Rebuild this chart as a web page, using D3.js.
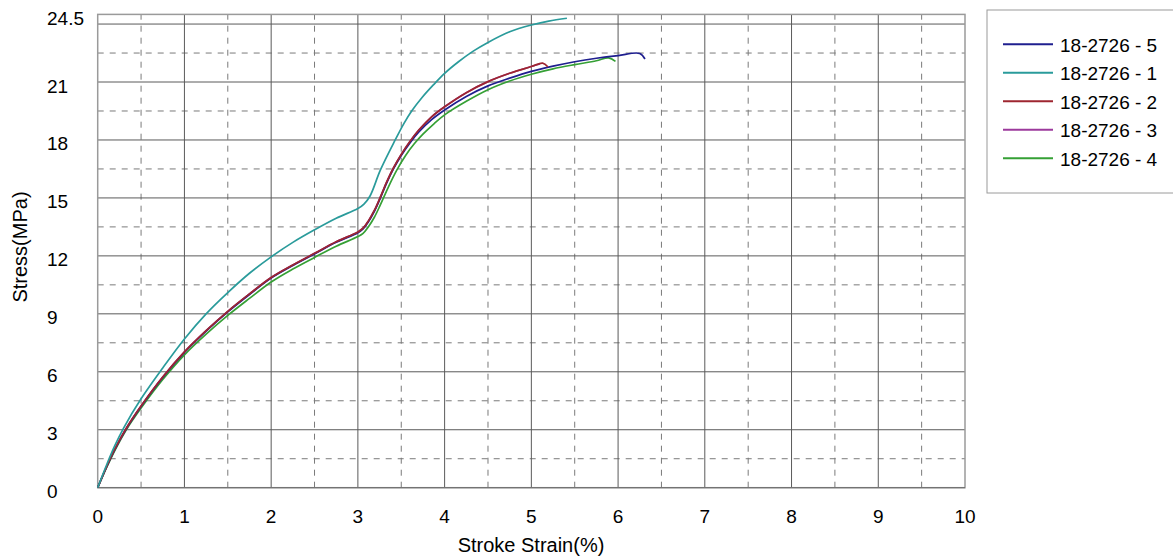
<!DOCTYPE html>
<html>
<head>
<meta charset="utf-8">
<script src="https://cdn.jsdelivr.net/npm/d3@7"></script>
<style>
  body { margin: 0; background: #fff; }
  svg { display: block; font-family: "Liberation Sans", Arial, sans-serif; }
</style>
</head>
<body>
<svg id="chart" width="1173" height="558"></svg>
<script>
// series names, in legend order
const seriesNames = ["18-2726 - 5", "18-2726 - 1", "18-2726 - 2", "18-2726 - 3", "18-2726 - 4"];
const seriesColors = ["#1f1f8f", "#2a9b9b", "#9e2630", "#9c3a9c", "#35a035"];

// [strain %, stress MPa]
const s5 = [[0,0],[0.1,1.05],[0.2,2.0],[0.33,3.05],[0.5,4.2],[0.75,5.7],[1.0,7.0],[1.25,8.1],[1.5,9.1],[1.75,10.0],
  [2.0,10.85],[2.25,11.5],[2.5,12.1],[2.75,12.7],[3.0,13.2],[3.06,13.4],[3.12,13.75],[3.19,14.3],[3.26,15.0],[3.33,15.75],
  [3.41,16.5],[3.5,17.2],[3.6,17.85],[3.7,18.4],[3.85,19.05],[4.0,19.55],[4.25,20.25],[4.5,20.8],[4.75,21.2],[5.0,21.55],
  [5.25,21.82],[5.5,22.05],[5.75,22.23],[6.0,22.37],[6.25,22.48],[6.31,22.19]];
const s1 = [[0,0],[0.1,1.15],[0.2,2.2],[0.3,3.1],[0.5,4.6],[0.75,6.2],[1.0,7.7],[1.25,9.0],[1.5,10.1],[1.75,11.1],
  [2.0,11.95],[2.25,12.7],[2.5,13.35],[2.75,13.95],[3.0,14.45],[3.07,14.68],[3.14,15.1],[3.26,16.45],[3.43,18.0],[3.53,18.85],
  [3.62,19.5],[3.74,20.2],[3.87,20.85],[4.0,21.45],[4.16,22.05],[4.33,22.6],[4.5,23.05],[4.75,23.6],[5.0,23.95],[5.2,24.15],
  [5.41,24.3]];
const s2 = [[0,0],[0.1,1.06],[0.2,2.02],[0.33,3.08],[0.5,4.23],[0.75,5.73],[1.0,7.03],[1.25,8.13],[1.5,9.13],[1.75,10.03],
  [2.0,10.88],[2.25,11.53],[2.5,12.13],[2.75,12.73],[3.0,13.24],[3.06,13.44],[3.12,13.8],[3.19,14.35],[3.26,15.05],[3.33,15.8],
  [3.41,16.55],[3.5,17.25],[3.6,17.92],[3.7,18.5],[3.85,19.2],[4.0,19.72],[4.25,20.45],[4.5,21.02],[4.75,21.45],[5.0,21.8],
  [5.13,21.98],[5.19,21.79]];
const s3 = [[0,0],[0.1,1.06],[0.2,2.02],[0.33,3.08],[0.5,4.23],[0.75,5.73],[1.0,7.03],[1.25,8.13],[1.5,9.13],[1.75,10.03],
  [2.0,10.88],[2.25,11.53],[2.5,12.13],[2.75,12.73],[3.0,13.24],[3.06,13.44],[3.12,13.8],[3.19,14.35],[3.26,15.05],[3.33,15.8],
  [3.41,16.55],[3.5,17.25],[3.6,17.92],[3.7,18.5],[3.85,19.2],[4.0,19.72],[4.25,20.45],[4.5,21.02],[4.75,21.45],[5.0,21.8],
  [5.1,21.93]];
const s4 = [[0,0],[0.1,1.02],[0.2,1.95],[0.33,3.0],[0.5,4.12],[0.75,5.6],[1.0,6.88],[1.25,7.95],[1.5,8.92],[1.75,9.8],
  [2.0,10.65],[2.25,11.32],[2.5,11.92],[2.75,12.5],[3.0,13.0],[3.06,13.17],[3.12,13.5],[3.19,14.0],[3.26,14.65],[3.35,15.55],
  [3.45,16.45],[3.55,17.2],[3.65,17.8],[3.75,18.3],[3.88,18.85],[4.0,19.3],[4.25,20.0],[4.5,20.6],[4.75,21.05],[5.0,21.4],
  [5.25,21.68],[5.5,21.9],[5.75,22.1],[5.89,22.25],[5.97,22.07]];

const seriesData = [s5, s1, s2, s3, s4];
// drawing order (purple sits under red)
const drawOrder = [3, 4, 0, 2, 1];

const xTicks = [0, 1, 2, 3, 4, 5, 6, 7, 8, 9, 10];
const yTicks = [0, 3, 6, 9, 12, 15, 18, 21, 24.5];
const xMinor = [0.5, 1.5, 2.5, 3.5, 4.5, 5.5, 6.5, 7.5, 8.5, 9.5];
const yMajorGrid = [3, 6, 9, 12, 15, 18, 21, 24];
const yMinorGrid = [1.5, 4.5, 7.5, 10.5, 13.5, 16.5, 19.5, 22.5];

const svg = d3.select("#chart");
const x = d3.scaleLinear([0, 10], [97.7, 965]);
const y = d3.scaleLinear([0, 24.5], [487.7, 14.4]);

const grid = svg.append("g");
// minor dashed grid
grid.selectAll(".vmin").data(xMinor).enter().append("line")
  .attr("x1", d => x(d)).attr("x2", d => x(d)).attr("y1", y(0)).attr("y2", y(24.5))
  .attr("stroke", "#7a7a7a").attr("stroke-width", 1).attr("stroke-dasharray", "6,6");
grid.selectAll(".hmin").data(yMinorGrid).enter().append("line")
  .attr("x1", x(0)).attr("x2", x(10)).attr("y1", d => y(d)).attr("y2", d => y(d))
  .attr("stroke", "#7a7a7a").attr("stroke-width", 1).attr("stroke-dasharray", "6,6");
// major solid grid
grid.selectAll(".vmaj").data(xTicks.slice(1, -1)).enter().append("line")
  .attr("x1", d => x(d)).attr("x2", d => x(d)).attr("y1", y(0)).attr("y2", y(24.5))
  .attr("stroke", "#5a5a5a").attr("stroke-width", 1);
grid.selectAll(".hmaj").data(yMajorGrid).enter().append("line")
  .attr("x1", x(0)).attr("x2", x(10)).attr("y1", d => y(d)).attr("y2", d => y(d))
  .attr("stroke", "#5a5a5a").attr("stroke-width", 1);
// frame
svg.append("rect")
  .attr("x", x(0)).attr("y", y(24.5)).attr("width", x(10) - x(0)).attr("height", y(0) - y(24.5))
  .attr("fill", "none").attr("stroke", "#9a9a9a").attr("stroke-width", 1.5);
svg.append("line").attr("x1", x(0)).attr("x2", x(10)).attr("y1", y(0)).attr("y2", y(0))
  .attr("stroke", "#6a6a6a").attr("stroke-width", 1);

// tick labels
svg.append("g").selectAll("text").data(yTicks).enter().append("text")
  .attr("x", 47).attr("y", d => y(d) + 10.5)
  .attr("font-size", 19).attr("fill", "#000")
  .text(d => d);
svg.append("g").selectAll("text").data(xTicks).enter().append("text")
  .attr("x", d => x(d)).attr("y", 523)
  .attr("text-anchor", "middle").attr("font-size", 19).attr("fill", "#000")
  .text(d => d);

// axis titles
svg.append("text").attr("x", 531).attr("y", 552)
  .attr("text-anchor", "middle").attr("font-size", 20).text("Stroke Strain(%)");
svg.append("text").attr("transform", "translate(27,247) rotate(-90)")
  .attr("text-anchor", "middle").attr("font-size", 20).text("Stress(MPa)");

// curves
const line = d3.line().x(d => x(d[0])).y(d => y(d[1])).curve(d3.curveCatmullRom.alpha(0.5));
svg.append("g").selectAll("path").data(drawOrder).enter().append("path")
  .attr("d", i => line(seriesData[i]))
  .attr("fill", "none")
  .attr("stroke", i => seriesColors[i])
  .attr("stroke-width", 1.7)
  .attr("stroke-linejoin", "round");

// legend
const legend = svg.append("g");
legend.append("rect").attr("x", 987).attr("y", 10).attr("width", 200).attr("height", 183)
  .attr("fill", "#fff").attr("stroke", "#9a9a9a").attr("stroke-width", 1);
const items = legend.selectAll(".item").data(seriesNames).enter().append("g")
  .attr("transform", (d, i) => `translate(0, ${44.3 + i * 28.5})`);
items.append("line").attr("x1", 1003).attr("x2", 1053).attr("y1", 0).attr("y2", 0)
  .attr("stroke", (d, i) => seriesColors[i]).attr("stroke-width", 2);
items.append("text").attr("x", 1060).attr("y", 7.4).attr("font-size", 19).text(d => d);
</script>
</body>
</html>
